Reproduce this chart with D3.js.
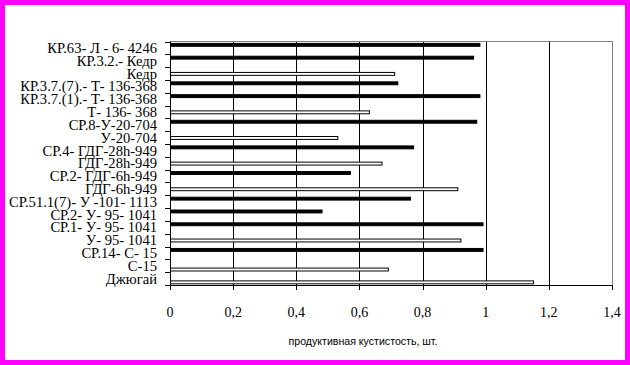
<!DOCTYPE html>
<html>
<head>
<meta charset="utf-8">
<script src="https://cdn.jsdelivr.net/npm/d3@7"></script>
<style>
  html, body { margin: 0; padding: 0; background: #fff; }
  svg { display: block; }
</style>
</head>
<body>
<div id="chart"></div>
<script>
// categories, top to bottom
const categories = [
  'КР.63- Л - 6- 4246',
  'КР.3.2.- Кедр',
  'Кедр',
  'КР.3.7.(7).- Т- 136-368',
  'КР.3.7.(1).- Т- 136-368',
  'Т- 136- 368',
  'СР.8-У-20-704',
  'У-20-704',
  'СР.4- ГДГ-28h-949',
  'ГДГ-28h-949',
  'СР.2- ГДГ-6h-949',
  'ГДГ-6h-949',
  'СР.51.1(7)- У -101- 1113',
  'СР.2- У- 95- 1041',
  'СР.1- У- 95- 1041',
  'У- 95- 1041',
  'СР.14- С- 15',
  'С-15',
  'Джюгай'
]

// hybrids (black bars)
const hybridValues = [0.98, 0.96, null, 0.72, 0.98, null, 0.97, null, 0.77, null, 0.57, null, 0.76, 0.48, 0.99, null, 0.99, null, null]
// parent forms (white bars)
const parentValues = [null, null, 0.71, null, null, 0.63, null, 0.53, null, 0.67, null, 0.91, null, null, null, 0.92, null, null, null]
// standards (white bars, lower slot)
const checkValues = [null, null, null, null, null, null, null, null, null, null, null, null, null, null, null, null, null, 0.69, 1.15]

const xTicks = [0, 0.2, 0.4, 0.6, 0.8, 1, 1.2, 1.4]
const xTitle = 'продуктивная кустистость, шт.'

const series = [
  { key: 'hybrid', values: hybridValues, fill: '#000' },
  { key: 'parent', values: parentValues, fill: '#fff' },
  { key: 'check', values: checkValues, fill: '#fff' }
]

const W = 630, H = 365
const margin = { top: 41.5, left: 170, right: 18, bottom: 80 }
const serif = '"Liberation Serif", "Times New Roman", serif'

const svg = d3.select('#chart').append('svg')
  .attr('width', W)
  .attr('height', H)

// magenta frame
svg.append('rect')
  .attr('x', 2.5).attr('y', 2.5)
  .attr('width', W - 5).attr('height', H - 5)
  .attr('fill', '#fff')
  .attr('stroke', '#ff00ff')
  .attr('stroke-width', 5)

const x = d3.scaleLinear()
  .domain([0, 1.4])
  .range([margin.left, W - margin.right])

const y = d3.scaleBand()
  .domain(categories)
  .range([margin.top, 285])
  .paddingInner(0)
  .paddingOuter(0)

const ySeries = d3.scaleBand()
  .domain(series.map(s => s.key))
  .range([1.4, y.bandwidth() - 1.2])

const g = svg.append('g')

// grid lines
g.append('g')
  .selectAll('line')
  .data(xTicks.filter(t => t > 0 && t < 1.4))
  .join('line')
  .attr('x1', d => Math.round(x(d)) + 0.5)
  .attr('x2', d => Math.round(x(d)) + 0.5)
  .attr('y1', margin.top)
  .attr('y2', 285)
  .attr('stroke', '#000')

// gray plot border (top and right)
g.append('path')
  .attr('d', `M${margin.left},${margin.top}H${Math.round(x(1.4)) + 0.5}V285`)
  .attr('fill', 'none')
  .attr('stroke', '#808080')

// bars
series.forEach(s => {
  const rows = categories.map((c, i) => ({ cat: c, v: s.values[i] })).filter(d => d.v != null)
  g.append('g')
    .selectAll('rect')
    .data(rows)
    .join('rect')
    .attr('x', x(0) + 0.5)
    .attr('y', d => y(d.cat) + ySeries(s.key) + 0.5)
    .attr('width', d => x(d.v) - x(0))
    .attr('height', ySeries.bandwidth() - 0.5)
    .attr('fill', s.fill)
    .attr('stroke', '#000')
    .attr('stroke-width', 1)
})

// left axis
const yAxis = g.append('g')
yAxis.append('line')
  .attr('x1', margin.left + 0.5).attr('x2', margin.left + 0.5)
  .attr('y1', margin.top).attr('y2', 285.5)
  .attr('stroke', '#000')
yAxis.selectAll('line.tick')
  .data(categories.concat(['__end']))
  .join('line')
  .attr('class', 'tick')
  .attr('x1', margin.left - 5).attr('x2', margin.left)
  .attr('y1', (d, i) => Math.round(margin.top + i * y.step()) + 0.5)
  .attr('y2', (d, i) => Math.round(margin.top + i * y.step()) + 0.5)
  .attr('stroke', '#000')
yAxis.selectAll('text')
  .data(categories)
  .join('text')
  .attr('x', margin.left - 13)
  .attr('y', d => y(d) + y.bandwidth() / 2)
  .attr('dy', '0.35em')
  .attr('text-anchor', 'end')
  .attr('font-family', serif)
  .attr('font-size', 14.6)
  .text(d => d)

// bottom axis
const xAxis = g.append('g')
xAxis.append('line')
  .attr('x1', margin.left).attr('x2', Math.round(x(1.4)) + 1)
  .attr('y1', 285.5).attr('y2', 285.5)
  .attr('stroke', '#000')
xAxis.selectAll('line.tick')
  .data(xTicks)
  .join('line')
  .attr('class', 'tick')
  .attr('x1', d => Math.round(x(d)) + 0.5)
  .attr('x2', d => Math.round(x(d)) + 0.5)
  .attr('y1', 285).attr('y2', 290)
  .attr('stroke', '#000')
xAxis.selectAll('text')
  .data(xTicks)
  .join('text')
  .attr('x', d => x(d))
  .attr('y', 312)
  .attr('dy', '0.35em')
  .attr('text-anchor', 'middle')
  .attr('font-family', serif)
  .attr('font-size', 14)
  .text(d => d3.format('')(d).replace('.', ','))

svg.append('text')
  .attr('x', 363)
  .attr('y', 341)
  .attr('dy', '0.35em')
  .attr('text-anchor', 'middle')
  .attr('font-family', '"Liberation Sans", Arial, sans-serif')
  .attr('font-size', 10.6)
  .text(xTitle)
</script>
</body>
</html>
